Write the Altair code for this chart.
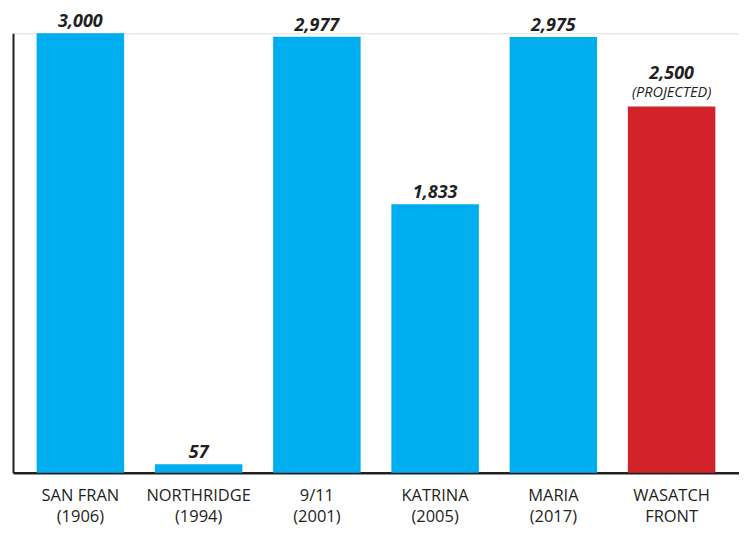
import altair as alt
import pandas as pd

categories = ["SAN FRAN|(1906)", "NORTHRIDGE|(1994)", "9/11|(2001)", "KATRINA|(2005)", "MARIA|(2017)", "WASATCH|FRONT"]
values = [3000, 57, 2977, 1833, 2975, 2500]
colors = ["#00AEEF", "#00AEEF", "#00AEEF", "#00AEEF", "#00AEEF", "#D2232A"]
notes = ["", "", "", "", "", "(PROJECTED)"]

df = pd.DataFrame({"cat": categories, "val": values, "color": colors, "note": notes})

FONT = "Open Sans"
INK = "#231F20"

x = alt.X("cat:N", sort=categories,
          scale=alt.Scale(paddingInner=0.26, paddingOuter=0.2),
          axis=alt.Axis(title=None, domain=True, domainColor=INK, domainWidth=2.5,
                        ticks=False, labelAngle=0, labelExpr="split(datum.label, '|')",
                        labelFont=FONT, labelFontSize=16.5, labelColor=INK,
                        labelLineHeight=21, labelPadding=15, labelBaseline="top"))
y = alt.Y("val:Q", scale=alt.Scale(domain=[0, 3000], nice=False, zero=True),
          axis=alt.Axis(title=None, domain=True, domainColor=INK, domainWidth=2,
                        ticks=False, labels=False, grid=False))

base = alt.Chart(df)

bars = base.mark_bar().encode(x=x, y=y, color=alt.Color("color:N", scale=None))

vals_main = base.transform_filter("datum.note == ''").mark_text(
    font=FONT, fontSize=18, fontWeight="bold", fontStyle="italic",
    color=INK, baseline="alphabetic", dy=-6).encode(
    x=alt.X("cat:N", sort=categories), y="val:Q",
    text=alt.Text("val:Q", format=","))

proj_df = df[df["note"] != ""]
vals_proj = alt.Chart(proj_df).mark_text(font=FONT, fontSize=18, fontWeight="bold", fontStyle="italic",
                                         color=INK, baseline="alphabetic", dy=-28).encode(
    x=alt.X("cat:N", sort=categories), y="val:Q",
    text=alt.Text("val:Q", format=","))
note = alt.Chart(proj_df).mark_text(font=FONT, fontSize=14.5, fontStyle="italic",
                                    color=INK, baseline="alphabetic", dy=-10).encode(
    x=alt.X("cat:N", sort=categories), y="val:Q", text="note:N")

chart = alt.layer(bars, vals_main, vals_proj, note).properties(
    width=727, height=440, autosize=alt.AutoSizeParams(type="none"),
    padding={"left": 5, "top": 25, "right": 0, "bottom": 54}
).configure_view(stroke=None).configure(background="white")

chart.save("out.html", embed_options={"renderer": "svg", "actions": False})
